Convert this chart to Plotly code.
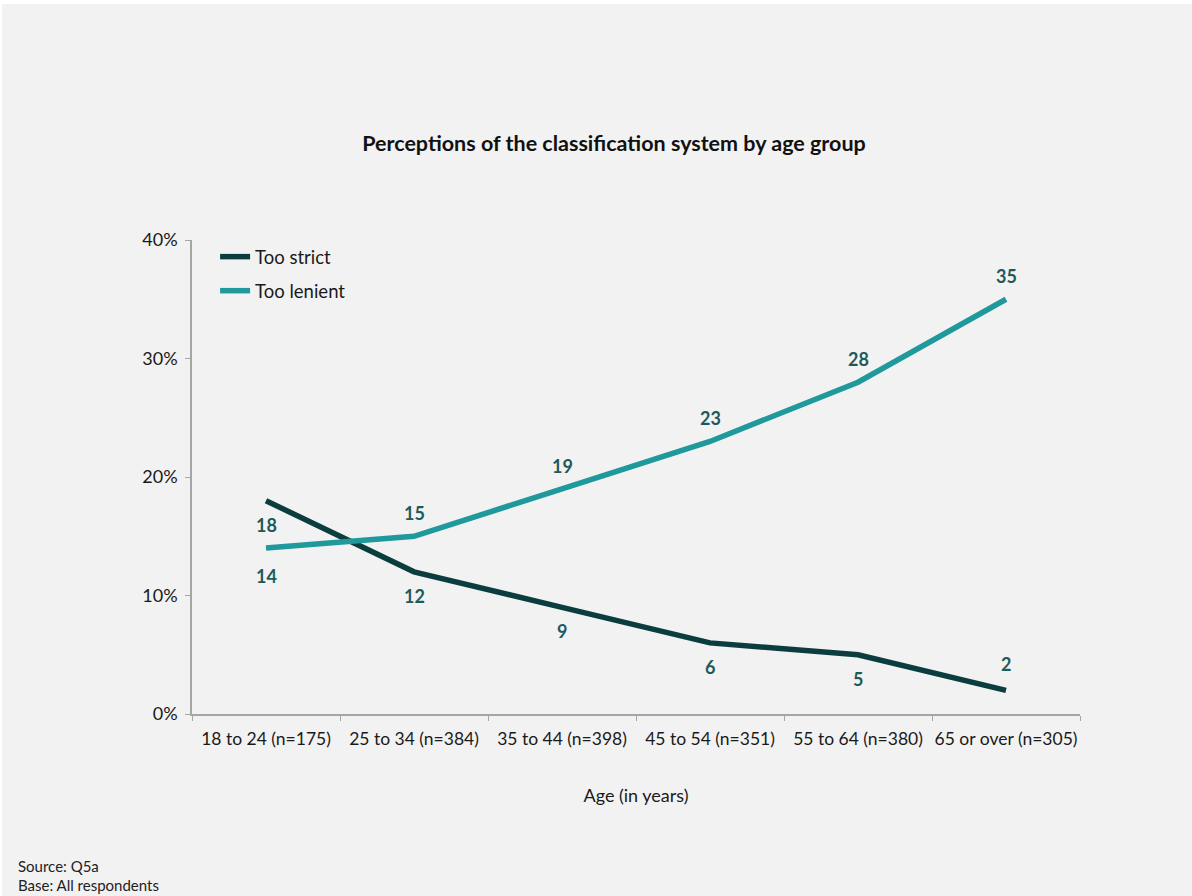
import plotly.graph_objects as go

# Survey results: share of respondents by age group (%)
age_groups = ["18 to 24 (n=175)", "25 to 34 (n=384)", "35 to 44 (n=398)",
              "45 to 54 (n=351)", "55 to 64 (n=380)", "65 or over (n=305)"]
too_strict = [18, 12, 9, 6, 5, 2]
too_lenient = [14, 15, 19, 23, 28, 35]
y_ticks = [0, 10, 20, 30, 40]
y_tick_labels = ["0%", "10%", "20%", "30%", "40%"]

STRICT_COLOR = "#0b3d3e"
LENIENT_COLOR = "#1f999b"
LABEL_COLOR = "#1d5a5c"
FONT = "Lato"

fig = go.Figure()
fig.add_trace(go.Scatter(x=age_groups, y=too_strict, mode="lines", name="Too strict",
                         legendgroup="strict",
                         line=dict(color=STRICT_COLOR, width=5.5)))
fig.add_trace(go.Scatter(x=age_groups, y=too_lenient, mode="lines", name="Too lenient",
                         legendgroup="lenient",
                         line=dict(color=LENIENT_COLOR, width=5.5)))

annotations = []
# value labels: "too strict" below its points, except the last one above
n = len(age_groups)
for i, (cat, v) in enumerate(zip(age_groups, too_strict)):
    annotations.append(dict(x=cat, y=v, text=f"<b>{v}</b>", showarrow=False,
                            yshift=26 if i == n - 1 else -24,
                            font=dict(size=18, color=LABEL_COLOR, family=FONT)))
# "too lenient": first label below, rest above
for i, (cat, v) in enumerate(zip(age_groups, too_lenient)):
    annotations.append(dict(x=cat, y=v, text=f"<b>{v}</b>", showarrow=False,
                            yshift=-28 if i == 0 else 23,
                            font=dict(size=18, color=LABEL_COLOR, family=FONT)))

# source notes
annotations.append(dict(xref="paper", yref="paper", x=(16 - 192) / 888, y=(714 - 866) / 474,
                        xanchor="left", yanchor="middle", showarrow=False,
                        text="Source: Q5a", font=dict(size=15, color="#222", family=FONT)))
annotations.append(dict(xref="paper", yref="paper", x=(16 - 192) / 888, y=(714 - 885) / 474,
                        xanchor="left", yanchor="middle", showarrow=False,
                        text="Base: All respondents", font=dict(size=15, color="#222", family=FONT)))

fig.update_layout(
    width=1192, height=896,
    margin=dict(l=192, r=112, t=240, b=182),
    paper_bgcolor="white",
    plot_bgcolor="rgba(0,0,0,0)",
    font=dict(family=FONT, size=18, color="#1a1a1a"),
    title=dict(text="<b>Perceptions of the classification system by age group</b>",
               x=614 / 1192, xanchor="center", y=1 - 143 / 896, yanchor="middle",
               font=dict(size=21.5, color="#111", family=FONT)),
    showlegend=True,
    legend=dict(x=0.026, y=1.004, xanchor="left", yanchor="top",
                bgcolor="rgba(0,0,0,0)", font=dict(size=18.5, color="#1a1a1a"),
                tracegroupgap=7, itemwidth=30),
    annotations=annotations,
    shapes=[dict(type="rect", xref="paper", yref="paper", layer="below",
                 x0=(2 - 192) / 888, x1=(1192 - 192) / 888,
                 y0=(714 - 896) / 474, y1=(714 - 4) / 474,
                 fillcolor="#f2f2f2", line=dict(width=0))],
)

fig.update_xaxes(
    type="category", categoryorder="array", categoryarray=age_groups,
    range=[-0.5, n - 0.5],
    showline=True, linecolor="#a6a6a6", linewidth=1.5,
    ticks="outside", tickson="boundaries", ticklen=5, tickcolor="#a6a6a6",
    showgrid=False, zeroline=False, ticklabelstandoff=8, tickangle=0,
    tickfont=dict(size=17.5, color="#1a1a1a"),
    title=dict(text="Age (in years)", font=dict(size=18, color="#1a1a1a"), standoff=42),
)
fig.update_yaxes(
    range=[0, 40], tickvals=y_ticks, ticktext=y_tick_labels,
    showline=True, linecolor="#a6a6a6", linewidth=1.5,
    ticks="outside", ticklen=5, tickcolor="#a6a6a6",
    showgrid=False, zeroline=False, ticklabelstandoff=4,
    tickfont=dict(size=18, color="#1a1a1a"),
)

fig.write_html("out.html")
